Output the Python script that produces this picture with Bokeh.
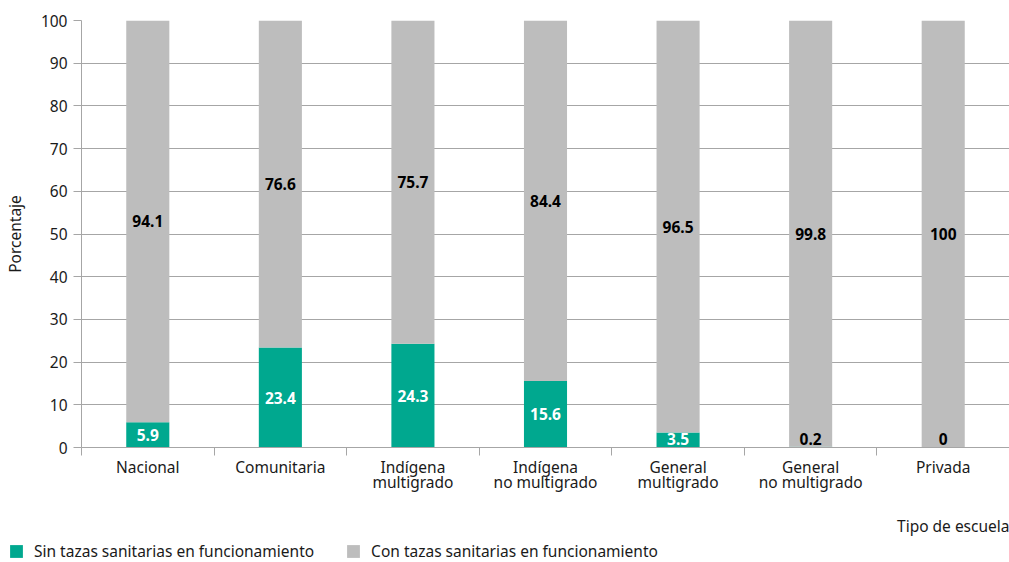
from bokeh.plotting import figure
from bokeh.models import (ColumnDataSource, Range1d, FixedTicker, Legend, LegendItem, Label)
from bokeh.layouts import column, row
from bokeh.core.properties import value
from bokeh.embed import file_html
from bokeh.resources import INLINE

categories = ["Nacional", "Comunitaria", "Indígena\nmultigrado", "Indígena\nno multigrado",
              "General\nmultigrado", "General\nno multigrado", "Privada"]
sin_tazas = [5.9, 23.4, 24.3, 15.6, 3.5, 0.2, 0]
con_tazas = [94.1, 76.6, 75.7, 84.4, 96.5, 99.8, 100]
y_ticks = [0, 10, 20, 30, 40, 50, 60, 70, 80, 90, 100]
series_names = ["Sin tazas sanitarias en funcionamiento", "Con tazas sanitarias en funcionamiento"]
x_title = "Tipo de escuela"
y_title = "Porcentaje"

GREEN = "#00A88F"
GRAY = "#BDBDBD"
AXIS = "#A6A6A6"
TXT = "#1a1a1a"
FONT = "Noto Sans"
FS = "15.5px"

xs = [i + 0.5 for i in range(len(categories))]
tops2 = [a + b for a, b in zip(sin_tazas, con_tazas)]

src = ColumnDataSource(dict(
    x=xs, sin=sin_tazas, con=con_tazas, zero=[0] * len(xs), top2=tops2,
    sin_y=[max(v / 2, 2.0) for v in sin_tazas],
    sin_txt=[("%g" % v) for v in sin_tazas],
    sin_col=["white" if v >= 1 else "black" for v in sin_tazas],
    con_y=[s + c / 2 for s, c in zip(sin_tazas, con_tazas)],
    con_txt=[("%g" % v) for v in con_tazas],
))

p = figure(width=1009, height=510, output_backend="svg", toolbar_location=None,
           x_range=Range1d(0, 7), y_range=Range1d(0, 100),
           min_border_left=81, min_border_right=0, min_border_top=20, min_border_bottom=63)
p.outline_line_color = None
p.xgrid.grid_line_color = None
p.ygrid.grid_line_color = AXIS
p.ygrid.grid_line_width = 1
p.ygrid.ticker = FixedTicker(ticks=y_ticks)

r1 = p.vbar(x="x", width=0.325, bottom="zero", top="sin", source=src, fill_color=GREEN, line_color=None)
r2 = p.vbar(x="x", width=0.325, bottom="sin", top="top2", source=src, fill_color=GRAY, line_color=None)

p.text(x="x", y="sin_y", text="sin_txt", source=src, text_color="sin_col",
       text_align="center", text_baseline="middle", text_font=value(FONT),
       text_font_style="bold", text_font_size=FS)
p.text(x="x", y="con_y", text="con_txt", source=src, text_color="black",
       text_align="center", text_baseline="middle", text_font=value(FONT),
       text_font_style="bold", text_font_size=FS)

# axes
p.yaxis.ticker = FixedTicker(ticks=y_ticks)
p.yaxis.axis_line_color = AXIS
p.yaxis.major_tick_line_color = AXIS
p.yaxis.major_tick_out = 8
p.yaxis.major_tick_in = 0
p.yaxis.minor_tick_line_color = None
p.yaxis.major_label_text_font = FONT
p.yaxis.major_label_text_font_size = FS
p.yaxis.major_label_text_color = TXT
p.yaxis.major_label_standoff = 6
p.yaxis.axis_label = y_title
p.yaxis.axis_label_text_font = FONT
p.yaxis.axis_label_text_font_size = FS
p.yaxis.axis_label_text_font_style = "normal"
p.yaxis.axis_label_text_color = TXT
p.yaxis.axis_label_standoff = 12

p.xaxis.ticker = FixedTicker(ticks=xs, minor_ticks=list(range(8)))
p.xaxis.major_label_overrides = {x: c for x, c in zip(xs, categories)}
p.xaxis.axis_line_color = AXIS
p.xaxis.major_tick_out = 0
p.xaxis.major_tick_in = 0
p.xaxis.minor_tick_line_color = AXIS
p.xaxis.minor_tick_out = 8
p.xaxis.minor_tick_in = 0
p.xaxis.major_label_text_font = FONT
p.xaxis.major_label_text_font_size = FS
p.xaxis.major_label_text_color = TXT
p.xaxis.major_label_text_line_height = 0.7
p.xaxis.major_label_standoff = 0

# lower strip: x-axis title and legend
q = figure(width=1009, height=52, output_backend="svg", toolbar_location=None,
           x_range=Range1d(0, 1), y_range=Range1d(0, 1),
           min_border_left=0, min_border_right=0, min_border_top=0, min_border_bottom=0)
q.outline_line_color = None
q.axis.visible = False
q.grid.visible = False
nan = float("nan")
d1 = q.quad(left=[nan], right=[nan], top=[nan], bottom=[nan], fill_color=GREEN, line_color=None)
d2 = q.quad(left=[nan], right=[nan], top=[nan], bottom=[nan], fill_color=GRAY, line_color=None)
q.add_layout(Label(x=1, y=37, x_units="data", y_units="screen", text=x_title,
                   text_align="right", text_baseline="middle", text_font=FONT,
                   text_font_size=FS, text_color=TXT))
legend = Legend(items=[LegendItem(label=series_names[0], renderers=[d1]),
                       LegendItem(label=series_names[1], renderers=[d2])],
                location=(8, 0), orientation="horizontal",
                glyph_width=16, glyph_height=16, label_standoff=10, spacing=31,
                padding=0, margin=0, border_line_color=None, background_fill_alpha=0,
                label_text_font=FONT, label_text_font_size=FS, label_text_color=TXT)
q.add_layout(legend)

open("out.html", "w").write(file_html(column(p, row(q), spacing=0), INLINE))
